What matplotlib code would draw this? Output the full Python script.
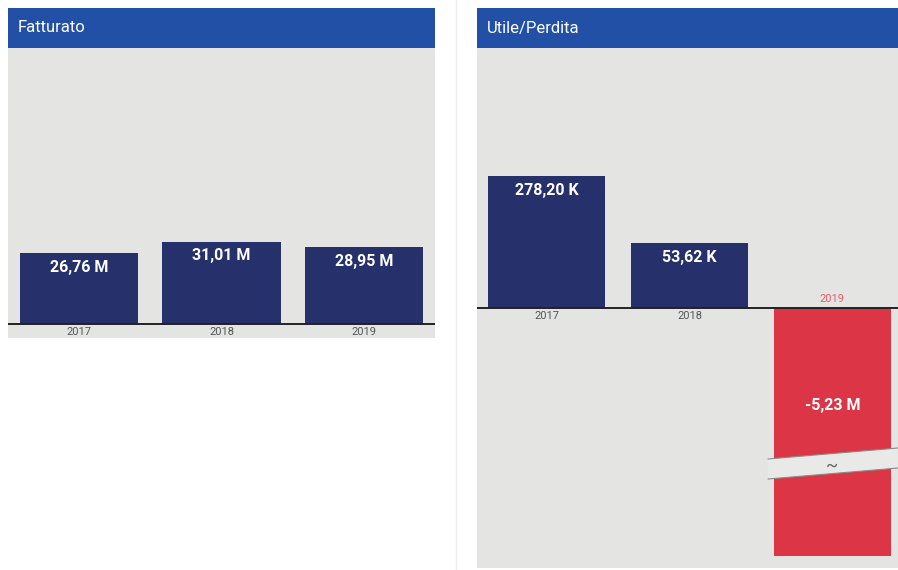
import matplotlib.pyplot as plt
import numpy as np
from matplotlib.patches import Rectangle, Polygon
from matplotlib.transforms import blended_transform_factory

plt.rcParams['font.family'] = ['Roboto', 'DejaVu Sans']

# data
years = ['2017', '2018', '2019']
fatturato = [26.76, 31.01, 28.95]          # milioni
utile = [278.20, 53.62, -5230.0]           # migliaia

BLUE_HEAD = '#2350a7'
NAVY = '#26306b'
RED = '#dc3545'
PANEL = '#e4e4e2'

W, H = 898, 570
fig = plt.figure(figsize=(W / 100, H / 100), dpi=100)
fig.patch.set_facecolor('white')


def px_box(x0, y0, x1, y1):
    # pixel box (top-left origin) -> figure fraction [l, b, w, h]
    return [x0 / W, 1 - y1 / H, (x1 - x0) / W, (y1 - y0) / H]


def header(x0, x1, title):
    l, b, w, h = px_box(x0, 8, x1, 48)
    fig.patches.append(Rectangle((l, b), w, h, transform=fig.transFigure,
                                 facecolor=BLUE_HEAD, edgecolor='none'))
    fig.text((x0 + 10) / W, 1 - 28 / H, title, color='white', fontsize=12,
             va='center', ha='left')


def fmt_k(v):
    if abs(v) >= 1000:
        return f'{v / 1000:.2f} M'.replace('.', ',')
    return f'{v:.2f} K'.replace('.', ',')


# --- Fatturato ---
header(8, 435, 'Fatturato')
ax1 = fig.add_axes(px_box(8, 48, 435, 338))
ax1.set_facecolor(PANEL)
x = np.arange(len(years))
ax1.bar(x, fatturato, width=0.83, color=NAVY, zorder=2)
ax1.axhline(0, color='#222222', lw=1.4, zorder=3)
ax1.set_xlim(-0.5, 2.5)
ax1.set_ylim(-5.26, 103.8)
for i, v in enumerate(fatturato):
    ax1.annotate(f'{v:.2f} M'.replace('.', ','), (i, v), xytext=(0, -5),
                 textcoords='offset points', ha='center', va='top',
                 color='white', fontsize=11.5, fontweight='bold', zorder=4)
    ax1.annotate(years[i], (i, 0), xytext=(0, -2), textcoords='offset points',
                 ha='center', va='top', color='#555555', fontsize=8)
ax1.axis('off')
ax1.add_patch(Rectangle((0, 0), 1, 1, transform=ax1.transAxes,
                        facecolor=PANEL, edgecolor='none', zorder=0))

# separator between the two cards
fig.add_artist(plt.Line2D([456 / W, 456 / W], [0, 1], color='#eeeeee', lw=1))

# --- Utile/Perdita ---
header(477, 898, 'Utile/Perdita')
l, b, w, h = px_box(477, 48, 898, 568)
fig.patches.append(Rectangle((l, b), w, h, transform=fig.transFigure,
                             facecolor=PANEL, edgecolor='none', zorder=-1))
ax2 = fig.add_axes(px_box(477, 48, 898, 556))
ax2.patch.set_alpha(0)
ax2.set_zorder(1)

p = 0.43
ax2.set_yscale('function',
               functions=(lambda v: np.sign(v) * np.abs(v) ** p,
                          lambda v: np.sign(v) * np.abs(v) ** (1 / p)))
colors = [NAVY if v >= 0 else RED for v in utile]
bw = 0.82
ax2.bar(x, utile, width=bw, color=colors, zorder=2)
ax2.axhline(0, color='#222222', lw=1.4, zorder=3)
ax2.set_xlim(-0.49, 2.46)
ax2.set_ylim(-1207, 1347)
for i, v in enumerate(utile):
    if v >= 0:
        ax2.annotate(fmt_k(v), (i, v), xytext=(0, -5), textcoords='offset points',
                     ha='center', va='top', color='white', fontsize=11.5,
                     fontweight='bold', zorder=4)
        ax2.annotate(years[i], (i, 0), xytext=(0, -2), textcoords='offset points',
                     ha='center', va='top', color='#555555', fontsize=8)
    else:
        ax2.annotate(fmt_k(v), (i, 0), xytext=(0, -70), textcoords='offset points',
                     ha='center', va='center', color='white', fontsize=11.5,
                     fontweight='bold', zorder=4)
        ax2.annotate(years[i], (i, 0), xytext=(0, 3), textcoords='offset points',
                     ha='center', va='bottom', color='#e0606a', fontsize=8)
        # axis break across the truncated bar
        tr = blended_transform_factory(ax2.transData, ax2.transAxes)
        xb0, xb1 = i - bw / 2 - 0.04, 2.46
        top = (0.191, 0.2126)
        bot = (0.1516, 0.1732)
        ax2.add_patch(Polygon([(xb0, top[0]), (xb1, top[1]), (xb1, bot[1]), (xb0, bot[0])],
                              closed=True, transform=tr, facecolor='#e9e9e8',
                              edgecolor='none', zorder=5, clip_on=False))
        ax2.plot([xb0, xb1], top, transform=tr, color='#8a8a8a', lw=0.8, zorder=6, clip_on=False)
        ax2.plot([xb0, xb1], bot, transform=tr, color='#8a8a8a', lw=0.8, zorder=6, clip_on=False)
        ax2.text(i, (top[0] + bot[0] + top[1] + bot[1]) / 4 - 0.004, '~', transform=tr,
                 ha='center', va='center', color='#666666', fontsize=13, zorder=7)
ax2.axis('off')

fig.savefig('out.png', dpi=100)
